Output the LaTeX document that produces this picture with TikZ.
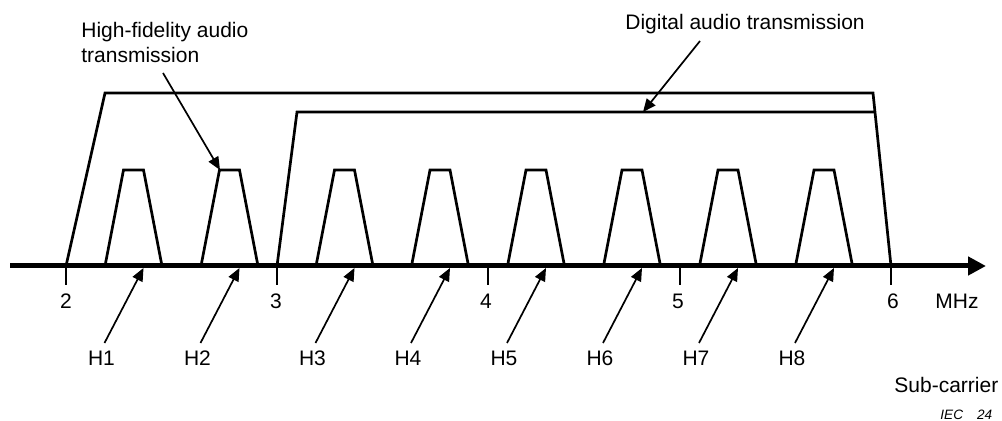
\documentclass[tikz,border=0pt]{standalone}
\usepackage{fontspec}
\setmainfont{Liberation Sans}
\usetikzlibrary{arrows.meta}
\begin{document}
\begin{tikzpicture}[x=0.5pt,y=-0.5pt,
  lbl/.style={font=\fontsize{10.5}{12.5}\selectfont, inner sep=0pt},
  band/.style={line width=1.35pt, line join=miter},
  ptr/.style={line width=0.85pt, -{Triangle[length=6.5pt,width=5.5pt]}},
  axisline/.style={line width=2.5pt, -{Triangle[length=9pt,width=9pt]}},
  tickmark/.style={line width=1.3pt}]
\useasboundingbox (0,0) rectangle (1002,421);
% outer bands
\draw[band] (66,266) -- (105,93) -- (873,93) -- (891,266);
\draw[band] (277,266) -- (297,112) -- (875,112);
% sub-carrier trapezoids
\foreach \c [count=\i] in {133.5,229.5,344.5,440,536,632,728,824} {
  \draw[band] ({\c-28.5},266) -- ({\c-10},170) -- ({\c+10},170) -- ({\c+28.5},266);
  \coordinate (t\i) at ({\c+10},268);
  \coordinate (s\i) at ({\c-29},343);
  \node[lbl, anchor=base] (h\i) at ({\c-32},366) {H\i};
  \draw[ptr] (s\i) -- (t\i);
}
% ticks
\foreach \x in {66,277,488,680,891}
  \draw[tickmark] (\x,266) -- (\x,285);
% axis
\coordinate (ax0) at (10,266);
\coordinate (ax1) at (986,266);
\draw[axisline] (ax0) -- (ax1);
% axis numbers
\foreach \x/\t in {66/2,276/3,486/4,678/5,893/6}
  \node[lbl, anchor=base] (n\t) at (\x,309) {\t};
\node[lbl, anchor=base] (mhz) at (957,309) {MHz};
% top labels
\node[lbl, anchor=north west, align=left] (hifi) at (81,22) {High-fidelity audio\\transmission};
\coordinate (hifiT) at (163,73);
\coordinate (hifiH) at (220,170);
\draw[ptr] (hifiT) -- (hifiH);
\node[lbl, anchor=base west] (dig) at (625,30) {Digital audio transmission};
\coordinate (digT) at (700,41);
\coordinate (digH) at (643,112);
\draw[ptr] (digT) -- (digH);
% bottom right
\node[lbl, anchor=base west] (sub) at (894,393) {Sub-carrier};
\node[font=\fontsize{6.8}{8}\selectfont\itshape, anchor=base west, inner sep=0pt] (iec) at (940,420) {IEC\hspace{7pt}24};
\end{tikzpicture}
\end{document}
